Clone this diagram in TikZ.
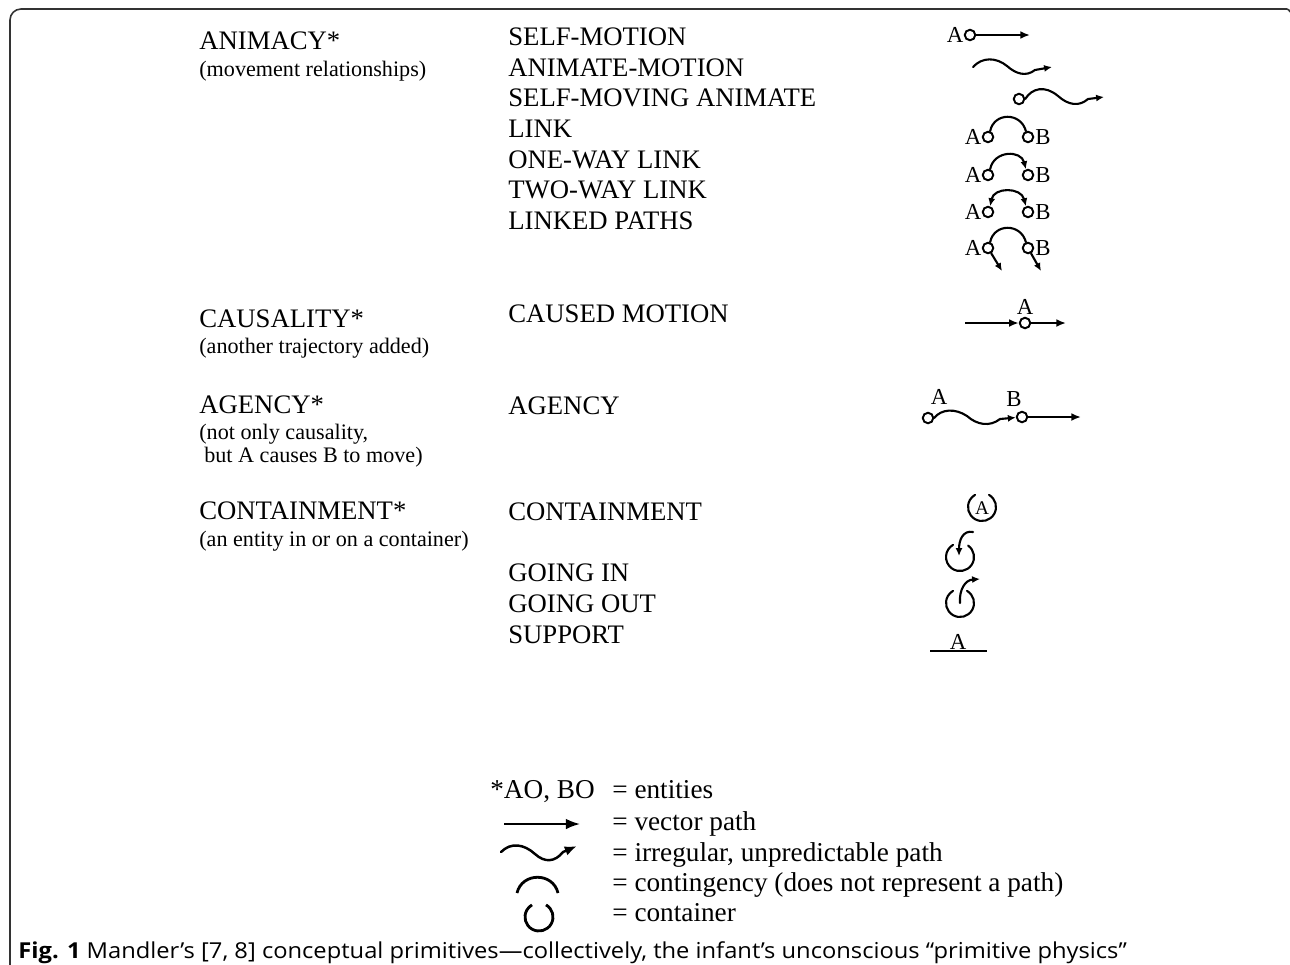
\documentclass[tikz,border=0pt]{standalone}
\usepackage{fontspec}
\setmainfont{Liberation Serif}
\newfontfamily\capfont{Open Sans}
\usetikzlibrary{positioning}
\usetikzlibrary{arrows.meta}

\tikzset
  {
    catlbl/.style=  {anchor=base west, inner sep=0pt, font=\fontsize{15.2}{18}\selectfont},
    notelbl/.style= {anchor=base west, inner sep=0pt, font=\fontsize{12.6}{15}\selectfont},
    keylbl/.style=  {anchor=base west, inner sep=0pt, font=\fontsize{15.5}{18}\selectfont},
    letter/.style=  {inner sep=0pt, font=\fontsize{13}{15}\selectfont},
    ent/.style=     {circle, draw, line width=1.1pt, inner sep=0pt, minimum size=0.21cm},
    wig/.style=     {line width=1.2pt, line cap=round},
    vecline/.style= {line width=1.2pt, -{Latex[length=5.5pt,width=4.5pt]}},
    tip/.style=     {-{Latex[length=4.5pt,width=4pt]}}
  }

\begin{document}
\begin{tikzpicture}[x=0.02cm, y=-0.02cm]

\useasboundingbox (0,0) rectangle (1290,964);

% frame
\draw[black!80, line width=0.9pt, rounded corners=0.22cm] (10,970) -- (10,9) -- (1287,9);
\draw[black!80, line width=0.9pt] (1287,9) to[out=0, in=120] (1290,12);

% left column
\node[catlbl]  (animacy)   at (199,49)  {ANIMACY*};
\node[notelbl] (animacyn)  at (199,76)  {(movement relationships)};
\node[catlbl]  (causal)    at (199,327) {CAUSALITY*};
\node[notelbl] (causaln)   at (199,353) {(another trajectory added)};
\node[catlbl]  (agency)    at (199,413) {AGENCY*};
\node[notelbl] (agencyn)   at (199,439) {(not only causality,};
\node[notelbl] (agencym)   at (204,462) {but A causes B to move)};
\node[catlbl]  (contain)   at (199,519) {CONTAINMENT*};
\node[notelbl] (containn)  at (199,546) {(an entity in or on a container)};

% middle column
\node[catlbl] (selfmot)  at (508,45)  {SELF-MOTION};
\node[catlbl] (animmot)  at (508,76)  {ANIMATE-MOTION};
\node[catlbl] (selfmov)  at (508,106) {SELF-MOVING ANIMATE};
\node[catlbl] (link)     at (508,137) {LINK};
\node[catlbl] (oneway)   at (508,168) {ONE-WAY LINK};
\node[catlbl] (twoway)   at (508,198) {TWO-WAY LINK};
\node[catlbl] (linked)   at (508,229) {LINKED PATHS};
\node[catlbl] (causedm)  at (508,322) {CAUSED MOTION};
\node[catlbl] (agencym2) at (508,414) {AGENCY};
\node[catlbl] (containm) at (508,520) {CONTAINMENT};
\node[catlbl] (goingin)  at (508,581) {GOING IN};
\node[catlbl] (goingout) at (508,612) {GOING OUT};
\node[catlbl] (support)  at (508,643) {SUPPORT};

% self-motion
\node[ent] (smA) at (970,35) {};
\node[letter, left=0pt of smA] {A};
\coordinate (smEnd) at (1030,35);
\draw[vecline] (smA) -- (smEnd);

% animate-motion
\coordinate (amStart) at (973,67);
\coordinate (amEnd) at (1052,67);
\draw[wig, tip] (amStart) .. controls (982,57) and (996,57) .. (1007,66)
  .. controls (1016,74) and (1026,77) .. (1035,70) -- (amEnd);

% self-moving animate
\node[ent] (smvA) at (1019,99) {};
\coordinate (smvEnd) at (1104,97);
\draw[wig, tip] (smvA.east) .. controls (1032,88) and (1045,85) .. (1058,96)
  .. controls (1068,105) and (1079,107) .. (1088,99) -- (smvEnd);

% links
\foreach \y/\nm in {137/lk, 175/ow, 212/tw, 248/lp}
{
\node[ent] (\nm A) at (988,\y) {};
\node[ent] (\nm B) at (1028,\y) {};
\node[letter, left=0pt of \nm A] {A};
\node[letter, right=0.5pt of \nm B] {B};
}
\draw[wig] (lkA.70) .. controls (994,112) and (1021,112) .. (lkB.110);
\draw[wig, tip] (owA.70) .. controls (994,150) and (1021,150) .. (owB.110);
\draw[wig, {Latex[length=4.5pt,width=4pt]}-{Latex[length=4.5pt,width=4pt]}] (twA.70) .. controls (994,187) and (1021,187) .. (twB.110);
\draw[wig] (lpA.70) .. controls (994,223) and (1021,223) .. (lpB.110);
\coordinate (lpAEnd) at (1002,271);
\coordinate (lpBEnd) at (1041,271);
\draw[wig, tip] (lpA) -- (lpAEnd);
\draw[wig, tip] (lpB) -- (lpBEnd);

% caused motion
\node[ent] (cmA) at (1025,323) {};
\node[letter, above=1pt of cmA] {A};
\coordinate (cmStart) at (965,323);
\coordinate (cmEnd) at (1066,323);
\draw[vecline] (cmStart) -- (cmA);
\draw[vecline] (cmA) -- (cmEnd);

% agency
\node[ent] (agA) at (928,418) {};
\node[ent] (agB) at (1022,417) {};
\node[letter] at (939,397) {A};
\node[letter] at (1014,399) {B};
\coordinate (agEnd) at (1081,417);
\draw[wig, tip] (agA.east) .. controls (941,409) and (955,408) .. (967,416)
  .. controls (977,425) and (990,427) .. (1000,419) -- (agB);
\draw[vecline] (agB) -- (agEnd);

% containers
\draw[wig] (982,507) +(300:14) arc[start angle=300, end angle=600, radius=14];
\node[letter, font=\fontsize{11}{12}\selectfont] (cA) at (982,508) {A};

\draw[wig] (960,557) +(305:14) arc[start angle=305, end angle=600, radius=14];
\draw[wig, tip] (973,532) .. controls (963,530) and (959,540) .. (959,556);

\draw[wig] (960,603) +(300:14) arc[start angle=300, end angle=600, radius=14];
\draw[wig, tip] (960,603) .. controls (959,590) and (965,580) .. (980,579);

% support
\draw[line width=1.5pt] (930,651) -- (987,651);
\node[letter, anchor=base] (sA) at (958,649) {A};

% key
\node[keylbl] (kent)  at (490,798) {*AO, BO};
\node[keylbl] (kentt) at (612,798) {= entities};
\node[keylbl] (kvec)  at (612,830) {= vector path};
\node[keylbl] (kirr)  at (612,861) {= irregular, unpredictable path};
\node[keylbl] (kcon)  at (612,891) {= contingency (does not represent a path)};
\node[keylbl] (kbox)  at (612,921) {= container};

\draw[line width=1.1pt, -{Latex[length=8pt,width=6pt]}] (504,824) -- (580,824);
\draw[line width=1.4pt, line cap=round, -{Latex[length=7pt,width=5.5pt]}] (501,852) .. controls (511,842) and (524,844) .. (535,854)
  .. controls (545,863) and (555,862) .. (563,852) -- (577,846);
\draw[line width=1.6pt] (517,893) .. controls (522,872) and (553,872) .. (558,893);
\draw[line width=1.6pt] (539,917) +(300:14) arc[start angle=300, end angle=600, radius=14];

% caption
\node[anchor=base west, inner sep=0pt, xscale=1.08, font=\capfont\fontsize{12.5}{14}\selectfont] (cap) at (18,958)
  {\textbf{Fig. 1} Mandler’s [7, 8] conceptual primitives—collectively, the infant’s unconscious “primitive physics”};

\end{tikzpicture}
\end{document}
